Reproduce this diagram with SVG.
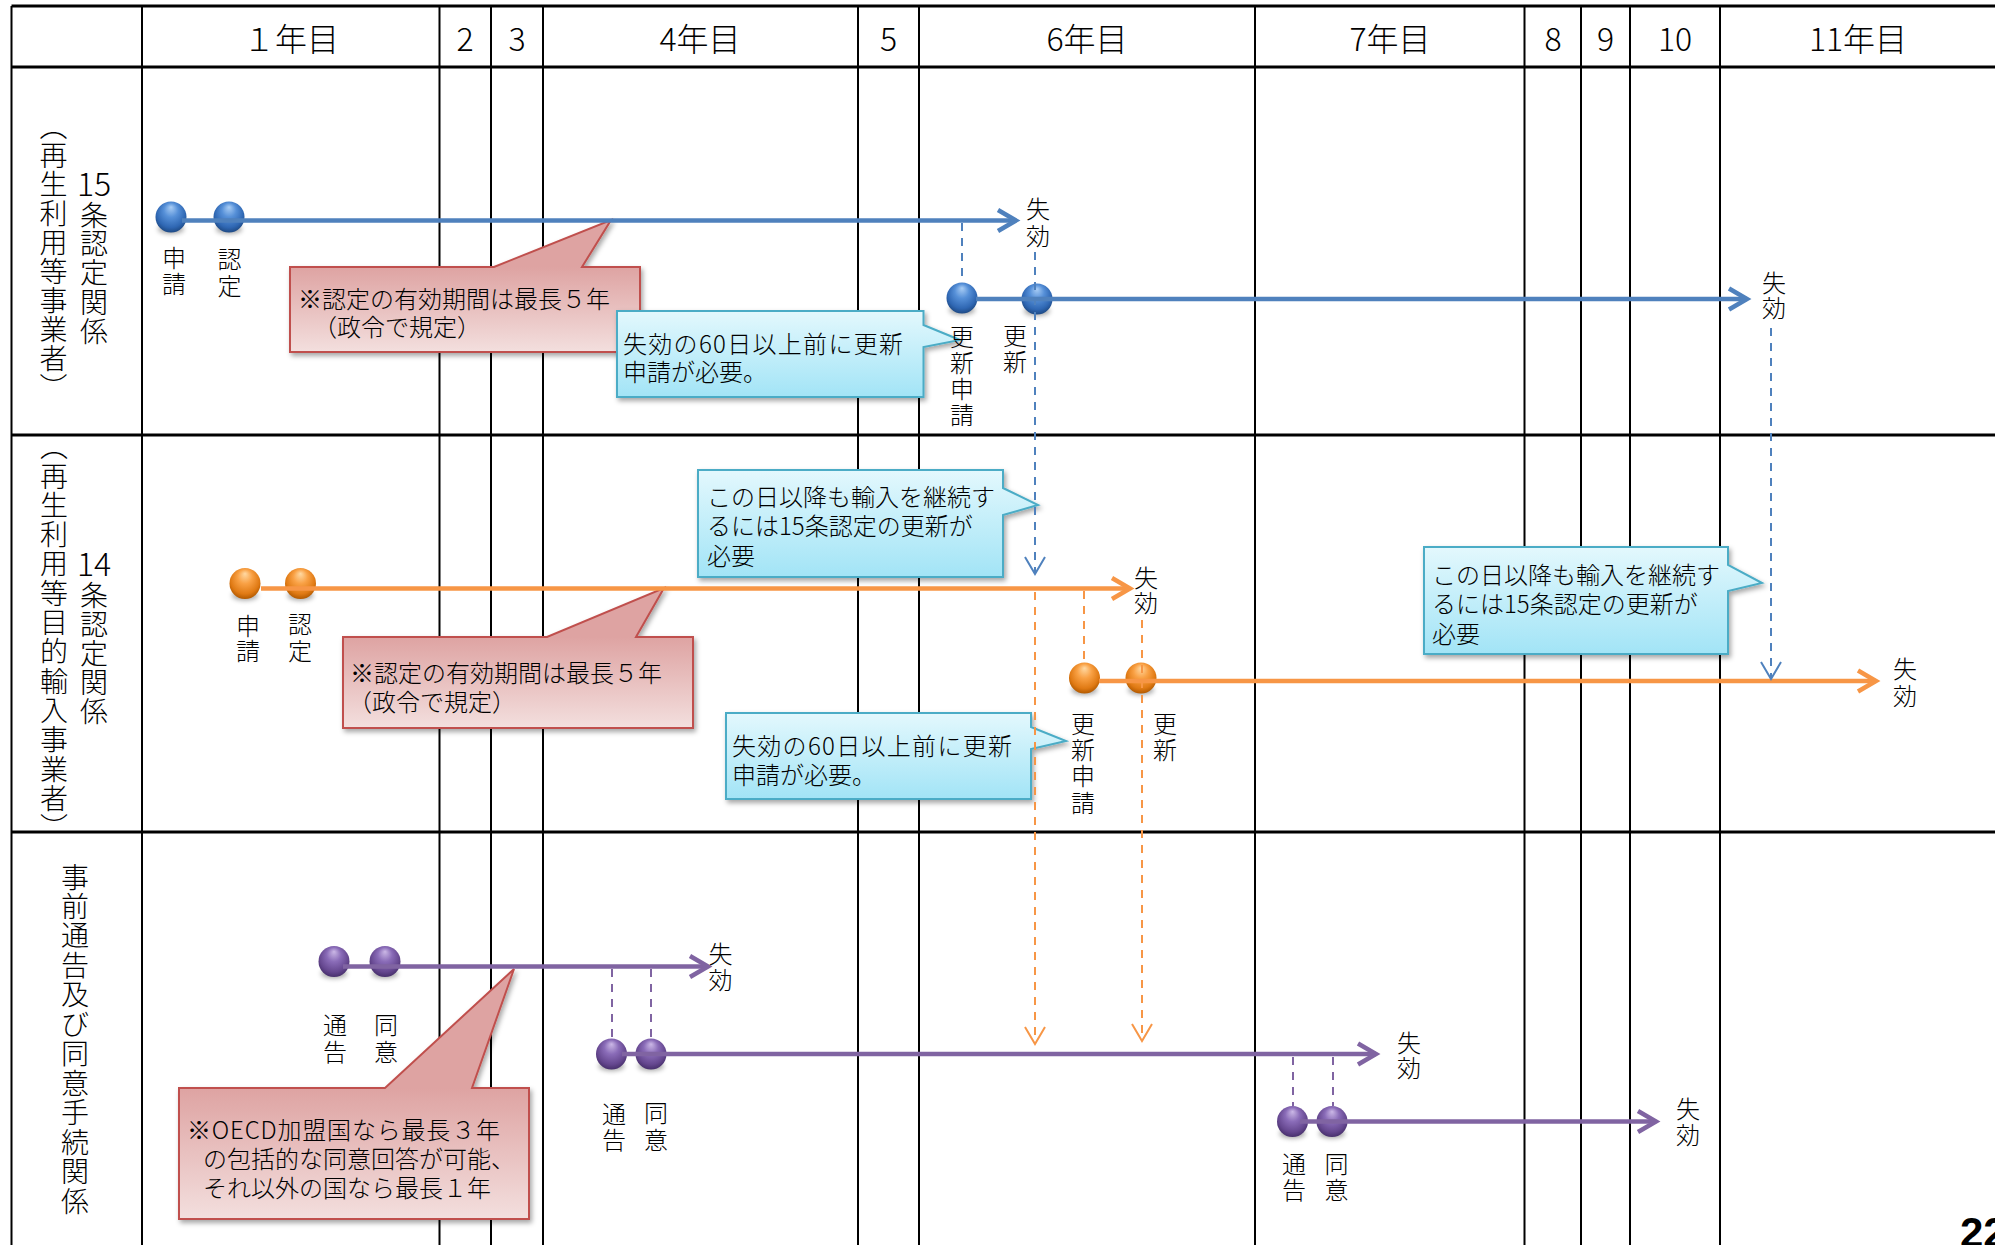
<svg xmlns="http://www.w3.org/2000/svg" width="1995" height="1245" viewBox="0 0 1995 1245">
<style>
text { font-family: "Noto Sans CJK JP", "Noto Sans", sans-serif; fill: #000; font-weight: 300; }
.hd { font-size: 32px; text-anchor: middle; dominant-baseline: central; }
.rl { font-size: 28px; text-anchor: middle; dominant-baseline: central; }
.rn { font-size: 32px; text-anchor: middle; dominant-baseline: central; }
.lb { font-size: 24px; text-anchor: middle; dominant-baseline: central; }
.ct { font-size: 24px; dominant-baseline: central; }
.pg { font-family: "Liberation Sans", Arial, sans-serif; font-weight: bold; font-size: 42px; }
.hz { stroke: #000; stroke-width: 3; fill: none; }
.vt { stroke: #000; stroke-width: 2; fill: none; }
.red { stroke: #c0504d; stroke-width: 2; filter: url(#sh); }
.aqua { stroke: #4bacc6; stroke-width: 2; fill: url(#gAqua); filter: url(#sh); }
.ln { fill: none; stroke-width: 4.5; }
.dash { fill: none; stroke-width: 2; stroke-dasharray: 8 7; }
.cb { stroke: #4f81bd; } .co { stroke: #f79646; } .cp { stroke: #8064a2; }
.bsh { fill: #000; opacity: .35; filter: url(#blur); }
.bb { fill: url(#gBlue); } .bo { fill: url(#gOrange); } .bp { fill: url(#gPurple); }
</style>
<defs>
  <filter id="sh" x="-10%" y="-10%" width="125%" height="130%">
    <feDropShadow dx="2" dy="3" stdDeviation="2.5" flood-color="#000" flood-opacity=".35"/>
  </filter>
  <filter id="blur" x="-50%" y="-50%" width="200%" height="200%">
    <feGaussianBlur stdDeviation="2.5"/>
  </filter>
  <radialGradient id="gBlue" cx="50%" cy="42%" r="58%" fx="50%" fy="18%">
    <stop offset="0" stop-color="#a9cdf5"/>
    <stop offset=".4" stop-color="#5690d8"/>
    <stop offset=".8" stop-color="#2f67b3"/>
    <stop offset="1" stop-color="#1e4a85"/>
  </radialGradient>
  <radialGradient id="gOrange" cx="50%" cy="42%" r="58%" fx="50%" fy="18%">
    <stop offset="0" stop-color="#ffd9a3"/>
    <stop offset=".4" stop-color="#f9a145"/>
    <stop offset=".8" stop-color="#e07a14"/>
    <stop offset="1" stop-color="#b35a00"/>
  </radialGradient>
  <radialGradient id="gPurple" cx="50%" cy="42%" r="58%" fx="50%" fy="18%">
    <stop offset="0" stop-color="#cbb8e6"/>
    <stop offset=".4" stop-color="#8a6cb8"/>
    <stop offset=".8" stop-color="#65478f"/>
    <stop offset="1" stop-color="#48306d"/>
  </radialGradient>
  <linearGradient id="gAqua" x1="0" y1="0" x2="0" y2="1">
    <stop offset="0" stop-color="#e3f8fd"/>
    <stop offset="1" stop-color="#a2e4f6"/>
  </linearGradient>
  <linearGradient id="gRed" x1="0" y1="0" x2="0" y2="1">
    <stop offset="0" stop-color="#dea3a2"/>
    <stop offset="1" stop-color="#f3dfde"/>
  </linearGradient>
  <linearGradient id="gR1" href="#gRed" gradientUnits="userSpaceOnUse" x1="0" y1="267" x2="0" y2="352"/>
  <linearGradient id="gR2" href="#gRed" gradientUnits="userSpaceOnUse" x1="0" y1="637" x2="0" y2="728"/>
  <linearGradient id="gR3" href="#gRed" gradientUnits="userSpaceOnUse" x1="0" y1="1088" x2="0" y2="1219"/>
  <marker id="chB" markerUnits="userSpaceOnUse" viewBox="-25 -20 40 40" markerWidth="40" markerHeight="40" refX="0" refY="0" orient="auto">
    <path d="M-18,-10.5 L0,0 L-18,10.5" fill="none" stroke="#4f81bd" stroke-width="4.5"/>
  </marker>
  <marker id="chO" markerUnits="userSpaceOnUse" viewBox="-25 -20 40 40" markerWidth="40" markerHeight="40" refX="0" refY="0" orient="auto">
    <path d="M-18,-10.5 L0,0 L-18,10.5" fill="none" stroke="#f79646" stroke-width="4.5"/>
  </marker>
  <marker id="chP" markerUnits="userSpaceOnUse" viewBox="-25 -20 40 40" markerWidth="40" markerHeight="40" refX="0" refY="0" orient="auto">
    <path d="M-18,-10.5 L0,0 L-18,10.5" fill="none" stroke="#8064a2" stroke-width="4.5"/>
  </marker>
  <marker id="vB" markerUnits="userSpaceOnUse" viewBox="-25 -20 40 40" markerWidth="40" markerHeight="40" refX="0" refY="0" orient="auto">
    <path d="M-17,-10 L0,0 L-17,10" fill="none" stroke="#4f81bd" stroke-width="2"/>
  </marker>
  <marker id="vO" markerUnits="userSpaceOnUse" viewBox="-25 -20 40 40" markerWidth="40" markerHeight="40" refX="0" refY="0" orient="auto">
    <path d="M-17,-10 L0,0 L-17,10" fill="none" stroke="#f79646" stroke-width="2"/>
  </marker>
</defs>

<rect width="1995" height="1245" fill="#fff"/>

<!-- schedule grid -->
<g id="grid">
  <path class="hz" d="M11.5,6 H1995 M11.5,67 H1995 M11.5,435 H1995 M11.5,832 H1995"/>
  <path class="vt" d="M11.5,6 V1245" stroke-width="2.5"/>
  <path class="vt" d="M142,6 V1245 M439.5,6 V1245 M491,6 V1245 M543,6 V1245 M858,6 V1245 M919,6 V1245 M1255,6 V1245 M1524.5,6 V1245 M1581,6 V1245 M1630,6 V1245 M1720,6 V1245"/>
  <text class="hd" x="291" y="37">１年目</text>
  <text class="hd" x="465" y="37">2</text>
  <text class="hd" x="517" y="37">3</text>
  <text class="hd" x="700" y="37">4年目</text>
  <text class="hd" x="888.5" y="37">5</text>
  <text class="hd" x="1087" y="37">6年目</text>
  <text class="hd" x="1390" y="37">7年目</text>
  <text class="hd" x="1553" y="37">8</text>
  <text class="hd" x="1605.5" y="37">9</text>
  <text class="hd" x="1675" y="37">10</text>
  <text class="hd" x="1858" y="37">11年目</text>
</g>

<!-- row headings (vertical) -->
<g id="row-15">
  <text class="rl" x="53.5 53.5 53.5 53.5 53.5 53.5 53.5 53.5 53.5 53.5" y="124.5 153.5 182.5 211.5 240.5 269.5 298.5 328 357 386">︵再生利用等事業者︶</text>
  <text class="rn" x="94" y="182">15</text>
  <text class="rl" x="94 94 94 94 94" y="213.5 242 271 300.5 330">条認定関係</text>
</g>
<g id="row-14">
  <text class="rl" x="54 54 54 54 54 54 54 54 54 54 54 54 54 54" y="445.2 474.5 503.8 533.1 562.4 591.7 621 650.3 679.6 708.9 738.2 767.5 796.8 826.1">︵再生利用等目的輸入事業者︶</text>
  <text class="rn" x="94" y="562">14</text>
  <text class="rl" x="94 94 94 94 94" y="594 623 652 681 710">条認定関係</text>
</g>
<g id="row-notice">
  <text class="rl" x="75 75 75 75 75 75 75 75 75 75 75 75" y="875.5 905 934.4 963.9 993.3 1022.8 1052.2 1081.7 1111.1 1140.6 1170 1199.5">事前通告及び同意手続関係</text>
</g>

<!-- callouts -->
<g id="note-15-term">
  <path class="red" fill="url(#gR1)" d="M290,267 H494 L611,220 L582,267 H640 V352 H290 Z"/>
  <text class="ct" x="298" y="297">※認定の有効期間は最長５年</text>
  <text class="ct" x="313" y="325">（政令で規定）</text>
</g>
<g id="note-15-renew">
  <path class="aqua" d="M617,311 H923.5 V325 L960,340 L923.5,347 V397 H617 Z"/>
  <text class="ct" x="623" y="342" textLength="280" lengthAdjust="spacing">失効の60日以上前に更新</text>
  <text class="ct" x="623" y="370">申請が必要。</text>
</g>
<g id="note-14-term">
  <path class="red" fill="url(#gR2)" d="M343,637 H547 L664,588 L636,637 H693 V728 H343 Z"/>
  <text class="ct" x="350" y="671">※認定の有効期間は最長５年</text>
  <text class="ct" x="348" y="700">（政令で規定）</text>
</g>
<g id="note-14-continue-a">
  <path class="aqua" d="M698,470 H1003 V488 L1038,505 L1003,515 V577 H698 Z"/>
  <text class="ct" x="707" y="495">この日以降も輸入を継続す</text>
  <text class="ct" x="707" y="524.5">るには15条認定の更新が</text>
  <text class="ct" x="707" y="554">必要</text>
</g>
<g id="note-14-renew">
  <path class="aqua" d="M726,713 H1031 V727 L1066,741 L1031,749 V799 H726 Z"/>
  <text class="ct" x="732" y="744" textLength="280" lengthAdjust="spacing">失効の60日以上前に更新</text>
  <text class="ct" x="732" y="773">申請が必要。</text>
</g>
<g id="note-14-continue-b">
  <path class="aqua" d="M1424,547 H1728 V565 L1762,583 L1728,591 V654 H1424 Z"/>
  <text class="ct" x="1432" y="573">この日以降も輸入を継続す</text>
  <text class="ct" x="1432" y="602.5">るには15条認定の更新が</text>
  <text class="ct" x="1432" y="632">必要</text>
</g>
<g id="note-notice-term">
  <path class="red" fill="url(#gR3)" d="M179,1088 H385 L514,969 L472,1088 H529 V1219 H179 Z"/>
  <text class="ct" x="187" y="1128" textLength="313" lengthAdjust="spacing">※OECD加盟国なら最長３年</text>
  <text class="ct" x="203" y="1157.5">の包括的な同意回答が可能、</text>
  <text class="ct" x="203" y="1186">それ以外の国なら最長１年</text>
</g>

<!-- event beads -->
<g id="e15-apply"><ellipse class="bsh" cx="171" cy="229" rx="13" ry="5"/><circle class="bb" cx="171" cy="217" r="15.5"/></g>
<g id="e15-cert"><ellipse class="bsh" cx="229" cy="229" rx="13" ry="5"/><circle class="bb" cx="229" cy="217" r="15.5"/></g>
<g id="e15-renew-apply"><ellipse class="bsh" cx="962" cy="310" rx="13" ry="5"/><circle class="bb" cx="962" cy="298" r="15.5"/></g>
<g id="e15-renew"><ellipse class="bsh" cx="1037" cy="311" rx="13" ry="5"/><circle class="bb" cx="1037" cy="299" r="15.5"/></g>
<g id="e14-apply"><ellipse class="bsh" cx="245" cy="595.5" rx="13" ry="5"/><circle class="bo" cx="245" cy="583.5" r="15.5"/></g>
<g id="e14-cert"><ellipse class="bsh" cx="300.5" cy="595.5" rx="13" ry="5"/><circle class="bo" cx="300.5" cy="583.5" r="15.5"/></g>
<g id="e14-renew-apply"><ellipse class="bsh" cx="1084.5" cy="690" rx="13" ry="5"/><circle class="bo" cx="1084.5" cy="678" r="15.5"/></g>
<g id="e14-renew"><ellipse class="bsh" cx="1141" cy="690" rx="13" ry="5"/><circle class="bo" cx="1141" cy="678" r="15.5"/></g>
<g id="n1-notice"><ellipse class="bsh" cx="334" cy="973.5" rx="13" ry="5"/><circle class="bp" cx="334" cy="961.5" r="15.5"/></g>
<g id="n1-consent"><ellipse class="bsh" cx="385" cy="973.5" rx="13" ry="5"/><circle class="bp" cx="385" cy="961.5" r="15.5"/></g>
<g id="n2-notice"><ellipse class="bsh" cx="611.5" cy="1066" rx="13" ry="5"/><circle class="bp" cx="611.5" cy="1054" r="15.5"/></g>
<g id="n2-consent"><ellipse class="bsh" cx="651" cy="1066" rx="13" ry="5"/><circle class="bp" cx="651" cy="1054" r="15.5"/></g>
<g id="n3-notice"><ellipse class="bsh" cx="1292.5" cy="1133.5" rx="13" ry="5"/><circle class="bp" cx="1292.5" cy="1121.5" r="15.5"/></g>
<g id="n3-consent"><ellipse class="bsh" cx="1332" cy="1133.5" rx="13" ry="5"/><circle class="bp" cx="1332" cy="1121.5" r="15.5"/></g>

<!-- validity periods and hand-off links -->
<g id="connectors">
  <path class="ln cb" d="M182,220.5 H1016" marker-end="url(#chB)"/>
  <path class="ln cb" d="M976,299 H1747" marker-end="url(#chB)"/>
  <path class="ln co" d="M261,588.5 H1130" marker-end="url(#chO)"/>
  <path class="ln co" d="M1099,681 H1876" marker-end="url(#chO)"/>
  <path class="ln cp" d="M343,966.5 H708" marker-end="url(#chP)"/>
  <path class="ln cp" d="M622,1054 H1376" marker-end="url(#chP)"/>
  <path class="ln cp" d="M1300,1121.5 H1656" marker-end="url(#chP)"/>

  <path class="dash cb" d="M962,223 V283"/>
  <path class="dash cb" d="M1035,252 V574" marker-end="url(#vB)"/>
  <path class="dash cb" d="M1771,328 V679" marker-end="url(#vB)"/>
  <path class="dash co" d="M1084,591 V663"/>
  <path class="dash co" d="M1035,592 V1044" marker-end="url(#vO)"/>
  <path class="dash co" d="M1142,620 V1041" marker-end="url(#vO)"/>
  <path class="dash cp" d="M612,969 V1039 M651,969 V1039"/>
  <path class="dash cp" d="M1293,1057 V1106 M1333,1057 V1106"/>
</g>

<!-- event labels -->
<g id="labels">
  <text class="lb" x="174 174" y="256 282">申請</text>
  <text class="lb" x="229.5 229.5" y="257.5 284.5">認定</text>
  <text class="lb" x="1038 1038" y="207 234">失効</text>
  <text class="lb" x="962 962 962 962" y="335 361 387 413">更新申請</text>
  <text class="lb" x="1015 1015" y="334 360">更新</text>
  <text class="lb" x="1774 1774" y="281 306">失効</text>

  <text class="lb" x="248 248" y="624 649">申請</text>
  <text class="lb" x="300 300" y="622.5 649">認定</text>
  <text class="lb" x="1146 1146" y="576 601">失効</text>
  <text class="lb" x="1083 1083 1083 1083" y="722 748 774 801">更新申請</text>
  <text class="lb" x="1165 1165" y="722 748">更新</text>
  <text class="lb" x="1905 1905" y="667.5 694">失効</text>

  <text class="lb" x="335 335" y="1023 1050">通告</text>
  <text class="lb" x="386 386" y="1023 1050">同意</text>
  <text class="lb" x="720.5 720.5" y="952 978">失効</text>
  <text class="lb" x="614 614" y="1112 1138">通告</text>
  <text class="lb" x="656 656" y="1111 1138">同意</text>
  <text class="lb" x="1409 1409" y="1041 1066">失効</text>
  <text class="lb" x="1294 1294" y="1162 1188">通告</text>
  <text class="lb" x="1336.5 1336.5" y="1162 1188">同意</text>
  <text class="lb" x="1688 1688" y="1107 1133">失効</text>
</g>

<text class="pg" x="1960" y="1247">22</text>
</svg>
